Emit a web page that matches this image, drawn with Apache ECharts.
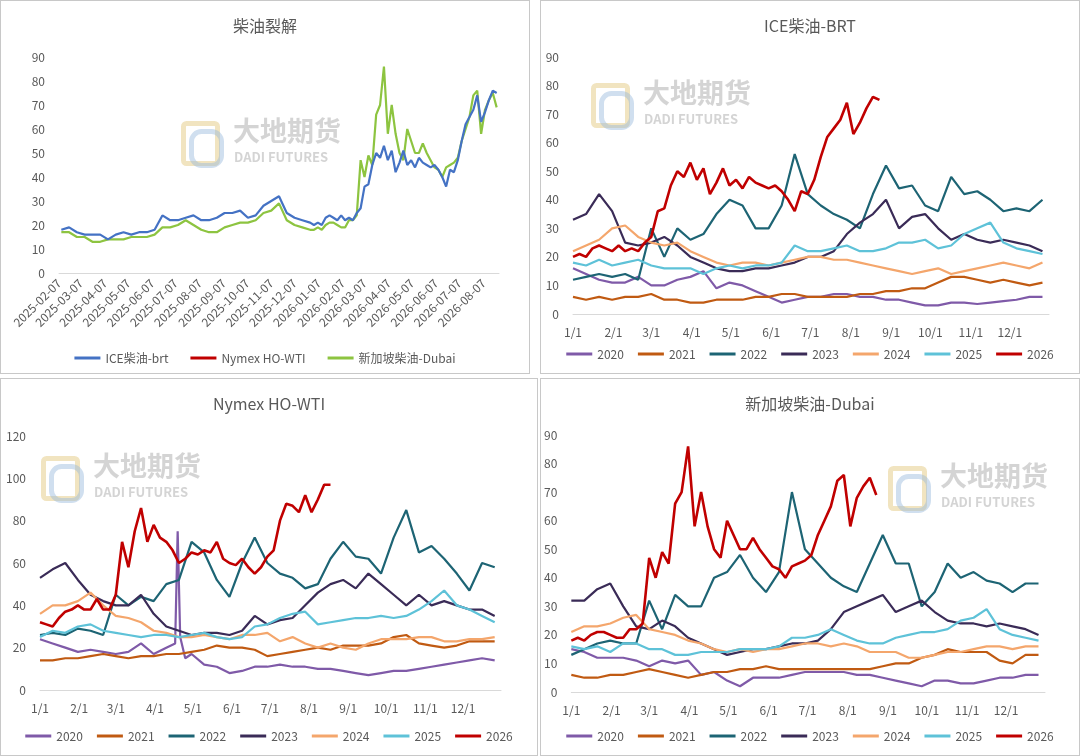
<!DOCTYPE html>
<html>
<head>
<meta charset="utf-8">
<script src="https://cdn.jsdelivr.net/npm/echarts@6/dist/echarts.min.js"></script>
<style>
  body { margin: 0; background: #fff; width: 1080px; height: 756px; position: relative; overflow: hidden; }
  .panel { position: absolute; border: 1px solid #c8c8c8; box-sizing: border-box; background: #fff; }
</style>
</head>
<body>
<div class="panel" id="c1" style="left:0;top:0;width:530px;height:374px"></div>
<div class="panel" id="c2" style="left:540px;top:0;width:540px;height:374px"></div>
<div class="panel" id="c3" style="left:0;top:378px;width:538px;height:378px"></div>
<div class="panel" id="c4" style="left:540px;top:378px;width:540px;height:378px"></div>
<script>
// 年份与颜色
const YEARS = ["2020", "2021", "2022", "2023", "2024", "2025", "2026"];
const YEAR_COLORS = ["#7f5aa8", "#c05a12", "#1d6474", "#3a2b57", "#f4a66c", "#5ec2d8", "#c00000"];

// 取样日(一年中的第几天): 历史年份每10天, 2026年每5天
const DAYS10 = [0,10,20,30,40,50,60,70,80,90,100,110,120,130,140,150,160,170,180,190,200,210,220,230,240,250,260,270,280,290,300,310,320,330,340,350,360];
const DAYS5 = [0,5,10,15,20,25,30,35,40,45,50,55,60,65,70,75,80,85,90,95,100,105,110,115,120,125,130,135,140,145,150,155,160,165,170,175,180,185,190,195,200,205,210,215,220,225,230,235];

/* ─── ICE柴油-BRT ─── */
const ICE_2020 = [16,14,12,11,11,13,10,10,12,13,15,9,11,10,8,6,4,5,6,6,7,7,6,6,5,5,4,3,3,4,4,3.5,4,4.5,5,6,6];
const ICE_2021 = [6,5,6,5,6,6,7,5,5,4,4,5,5,5,6,6,7,7,6,6,6,6,7,7,8,8,9,9,11,13,13,12,11,12,11,10,11];
const ICE_2022 = [12,13,14,13,14,12,30,20,30,26,28,35,40,38,30,30,38,56,42,38,35,33,30,42,52,44,45,38,36,48,42,43,40,36,37,36,40];
const ICE_2023 = [33,35,42,36,25,24,25,27,24,20,18,16,15,15,16,16,17,18,20,20,22,28,32,35,40,30,34,35,30,26,28,26,25,26,25,24,22];
const ICE_2024 = [22,24,26,30,31,27,25,24,25,22,20,18,17,18,18,17,18,19,20,20,19,19,18,17,16,15,14,15,16,14,15,16,17,18,17,16,18];
const ICE_2025 = [18,17,19,17,18,19,17,16,16,16,14,16,17,16,17,17,18,24,22,22,23,24,22,22,23,25,25,26,23,24,28,30,32,25,23,22,21];
const ICE_2026 = [20,21,20,23,24,23,22,24,22,23,22,25,27,36,37,45,50,48,53,47,51,42,46,51,45,47,44,48,46,45,44,45,43,40,36,43,42,47,55,62,65,68,74,63,67,72,76,75];

/* ─── Nymex HO-WTI ─── */
const HO_2020_DAYS = [0,10,20,30,40,50,60,70,80,90,100,107,109,111,115,120,130,140,150,160,170,180,190,200,210,220,230,240,250,260,270,280,290,300,310,320,330,340,350,360];
const HO_2020 = [24,22,20,18,19,18,17,18,22,17,20,22,75,25,15,17,12,11,8,9,11,11,12,11,11,10,10,9,8,7,8,9,9,10,11,12,13,14,15,14];
const HO_2021 = [14,14,15,15,16,17,16,15,16,16,17,17,18,19,21,20,20,19,16,17,18,19,20,19,21,21,21,22,25,26,22,21,20,21,23,23,23];
const HO_2022 = [26,27,26,29,28,26,45,40,44,42,50,52,70,65,52,44,60,72,60,55,53,48,50,62,70,63,62,55,72,85,65,68,62,55,47,60,58];
const HO_2023 = [53,57,60,52,45,42,40,40,45,36,30,28,26,27,27,26,28,35,31,33,34,40,46,50,52,48,55,50,45,40,45,40,42,40,38,38,35];
const HO_2024 = [36,40,40,42,46,40,35,34,32,28,27,25,25,26,25,24,26,26,27,23,25,22,20,22,20,19,22,24,24,24,25,25,23,23,24,24,25];
const HO_2025 = [25,28,27,30,31,28,27,26,25,26,26,25,26,27,25,24,25,30,31,34,36,37,31,32,33,34,34,35,34,35,38,42,47,40,38,35,32];
const HO_2026 = [32,31,30,34,37,38,40,38,38,43,38,38,45,70,58,75,86,70,78,72,70,66,60,62,65,64,66,65,70,62,60,59,62,58,55,58,63,66,80,88,87,84,92,84,90,97,97];

/* ─── 新加坡柴油-Dubai ─── */
const SG_2020 = [15,14,12,12,12,11,9,11,10,11,6,7,4,2,5,5,5,6,7,7,7,7,6,6,5,4,3,2,4,4,3,3,4,5,5,6,6];
const SG_2021 = [6,5,5,6,6,7,8,7,6,5,6,7,7,8,8,9,8,8,8,8,8,8,8,8,9,10,10,12,13,15,14,14,14,11,10,13,13];
const SG_2022 = [13,15,17,18,17,17,32,22,34,30,30,40,42,48,40,35,42,70,50,45,40,37,35,45,55,45,45,30,35,45,40,42,39,38,35,38,38];
const SG_2023 = [32,32,36,38,30,23,22,25,23,19,17,15,13,14,15,15,16,17,17,18,22,28,30,32,34,28,30,32,28,25,24,24,23,24,23,22,20];
const SG_2024 = [21,23,23,24,26,27,22,21,20,18,17,15,14,15,14,15,15,16,17,17,16,17,16,14,14,14,12,12,13,14,14,15,16,16,15,16,16];
const SG_2025 = [16,15,16,14,17,17,15,15,13,13,14,14,14,15,15,15,16,19,19,20,22,20,18,17,17,19,20,21,21,22,25,26,29,22,20,19,18];
const SG_2026 = [18,19,18,20,21,21,20,19,19,22,22,24,47,40,49,45,66,70,86,58,70,58,50,47,60,55,50,50,54,50,47,44,43,40,44,45,46,48,55,60,65,74,76,58,68,72,75,69];

// 总览图: 2025-02-07 起
const OVERVIEW_START_DAY = 37;
const OVERVIEW_NAMES = ["ICE柴油-brt", "Nymex HO-WTI", "新加坡柴油-Dubai"];
const OVERVIEW_COLORS = ["#4472c4", "#c00000", "#8dc440"];

const TXT = "#595959";
const FONT = "'Noto Sans CJK SC', 'Noto Sans', sans-serif";

function dayLabels(year) {
  const out = [];
  const d = new Date(Date.UTC(year, 0, 1));
  for (let i = 0; i < 366; i++) {
    out.push((d.getUTCMonth() + 1) + "/" + d.getUTCDate());
    d.setUTCDate(d.getUTCDate() + 1);
  }
  return out;
}

function pairs(days, vals) {
  return vals.map((v, i) => [days[i], v]);
}

function watermark(x, y) {
  return [
    { type: "rect", left: x, top: y + 2, shape: { width: 34, height: 40, r: 3 }, style: { fill: "rgba(0,0,0,0)", stroke: "rgba(230,205,140,0.55)", lineWidth: 5 }, z: 0 },
    { type: "rect", left: x + 8, top: y + 10, shape: { width: 30, height: 34, r: 10 }, style: { fill: "rgba(0,0,0,0)", stroke: "rgba(150,185,220,0.45)", lineWidth: 5 }, z: 0 },
    { type: "text", left: x + 52, top: y - 2, style: { text: "大地期货", fill: "rgba(170,170,170,0.5)", font: "bold 27px " + FONT }, z: 0 },
    { type: "text", left: x + 53, top: y + 32, style: { text: "DADI FUTURES", fill: "rgba(170,170,170,0.5)", font: "bold 13px " + FONT }, z: 0 }
  ];
}

function baseOption(title, grid, yMax, yInterval) {
  return {
    animation: false,
    textStyle: { fontFamily: FONT },
    title: { text: title, left: "center", top: 12, textStyle: { color: TXT, fontSize: 16, fontWeight: "normal", fontFamily: FONT } },
    grid: grid,
    yAxis: {
      type: "value", min: 0, max: yMax, interval: yInterval,
      axisLine: { show: false }, axisTick: { show: false }, splitLine: { show: false },
      axisLabel: { color: TXT, fontSize: 12, margin: 14 }
    }
  };
}

function seasonalChart(id, title, grid, yMax, yInterval, data, wm) {
  const chart = echarts.init(document.getElementById(id));
  const labels = dayLabels(2020);
  const opt = baseOption(title, grid, yMax, yInterval);
  opt.graphic = watermark(wm[0], wm[1]);
  opt.xAxis = {
    type: "category", data: labels, boundaryGap: false,
    axisLine: { lineStyle: { color: "#d9d9d9" } },
    axisTick: { show: false },
    axisLabel: { color: TXT, fontSize: 12, margin: 12, interval: (i, v) => v.endsWith("/1") }
  };
  opt.legend = {
    bottom: 8, itemWidth: 26, itemHeight: 3, itemGap: 14, icon: "rect",
    textStyle: { color: TXT, fontSize: 12 }, data: YEARS
  };
  opt.series = YEARS.map((y, i) => ({
    name: y, type: "line", showSymbol: false, symbol: "none",
    data: data[i],
    lineStyle: { width: i === 6 ? 2.6 : 2.2, color: YEAR_COLORS[i] },
    itemStyle: { color: YEAR_COLORS[i] },
    z: 2 + i
  }));
  chart.setOption(opt);
}

/* ─── 总览 柴油裂解 ─── */
(function () {
  const chart = echarts.init(document.getElementById("c1"));
  const labels = [];
  const d = new Date(Date.UTC(2025, 1, 7));
  const end = Date.UTC(2026, 7, 27);
  while (d.getTime() <= end) {
    labels.push(d.toISOString().slice(0, 10));
    d.setUTCDate(d.getUTCDate() + 1);
  }
  const off2026 = 365 - OVERVIEW_START_DAY;
  const join = (a25, a26) => {
    const out = [];
    DAYS10.forEach((dd, i) => { if (dd >= OVERVIEW_START_DAY) out.push([dd - OVERVIEW_START_DAY, a25[i]]); });
    DAYS5.forEach((dd, i) => { if (i < a26.length) out.push([off2026 + dd, a26[i]]); });
    return out;
  };
  const opt = baseOption("柴油裂解", { left: 58, right: 30, top: 56, bottom: 100 }, 90, 10);
  opt.graphic = watermark(180, 118);
  opt.xAxis = {
    type: "category", data: labels, boundaryGap: false,
    axisLine: { lineStyle: { color: "#d9d9d9" } },
    axisTick: { show: false },
    axisLabel: { color: TXT, fontSize: 12, rotate: 45, margin: 8, interval: (i, v) => v.endsWith("-07") }
  };
  opt.legend = {
    bottom: 4, itemWidth: 26, itemHeight: 3, itemGap: 22, icon: "rect",
    textStyle: { color: TXT, fontSize: 12 }, data: OVERVIEW_NAMES
  };
  const seriesData = [join(ICE_2025, ICE_2026), [], join(SG_2025, SG_2026)];
  opt.series = OVERVIEW_NAMES.map((n, i) => ({
    name: n, type: "line", symbol: "none", data: seriesData[i],
    lineStyle: { width: 2.2, color: OVERVIEW_COLORS[i] },
    itemStyle: { color: OVERVIEW_COLORS[i] },
    z: i === 2 ? 3 : 4
  }));
  chart.setOption(opt);
})();

seasonalChart("c2", "ICE柴油-BRT", { left: 32, right: 30, top: 56, bottom: 59 }, 90, 10, [
  pairs(DAYS10, ICE_2020), pairs(DAYS10, ICE_2021), pairs(DAYS10, ICE_2022), pairs(DAYS10, ICE_2023),
  pairs(DAYS10, ICE_2024), pairs(DAYS10, ICE_2025), pairs(DAYS5, ICE_2026)
], [50, 80]);

seasonalChart("c3", "Nymex HO-WTI", { left: 39, right: 36, top: 57, bottom: 65 }, 120, 20, [
  pairs(HO_2020_DAYS, HO_2020), pairs(DAYS10, HO_2021), pairs(DAYS10, HO_2022), pairs(DAYS10, HO_2023),
  pairs(DAYS10, HO_2024), pairs(DAYS10, HO_2025), pairs(DAYS5, HO_2026)
], [40, 75]);

seasonalChart("c4", "新加坡柴油-Dubai", { left: 30, right: 34, top: 56, bottom: 63 }, 90, 10, [
  pairs(DAYS10, SG_2020), pairs(DAYS10, SG_2021), pairs(DAYS10, SG_2022), pairs(DAYS10, SG_2023),
  pairs(DAYS10, SG_2024), pairs(DAYS10, SG_2025), pairs(DAYS5, SG_2026)
], [347, 85]);
</script>
</body>
</html>
